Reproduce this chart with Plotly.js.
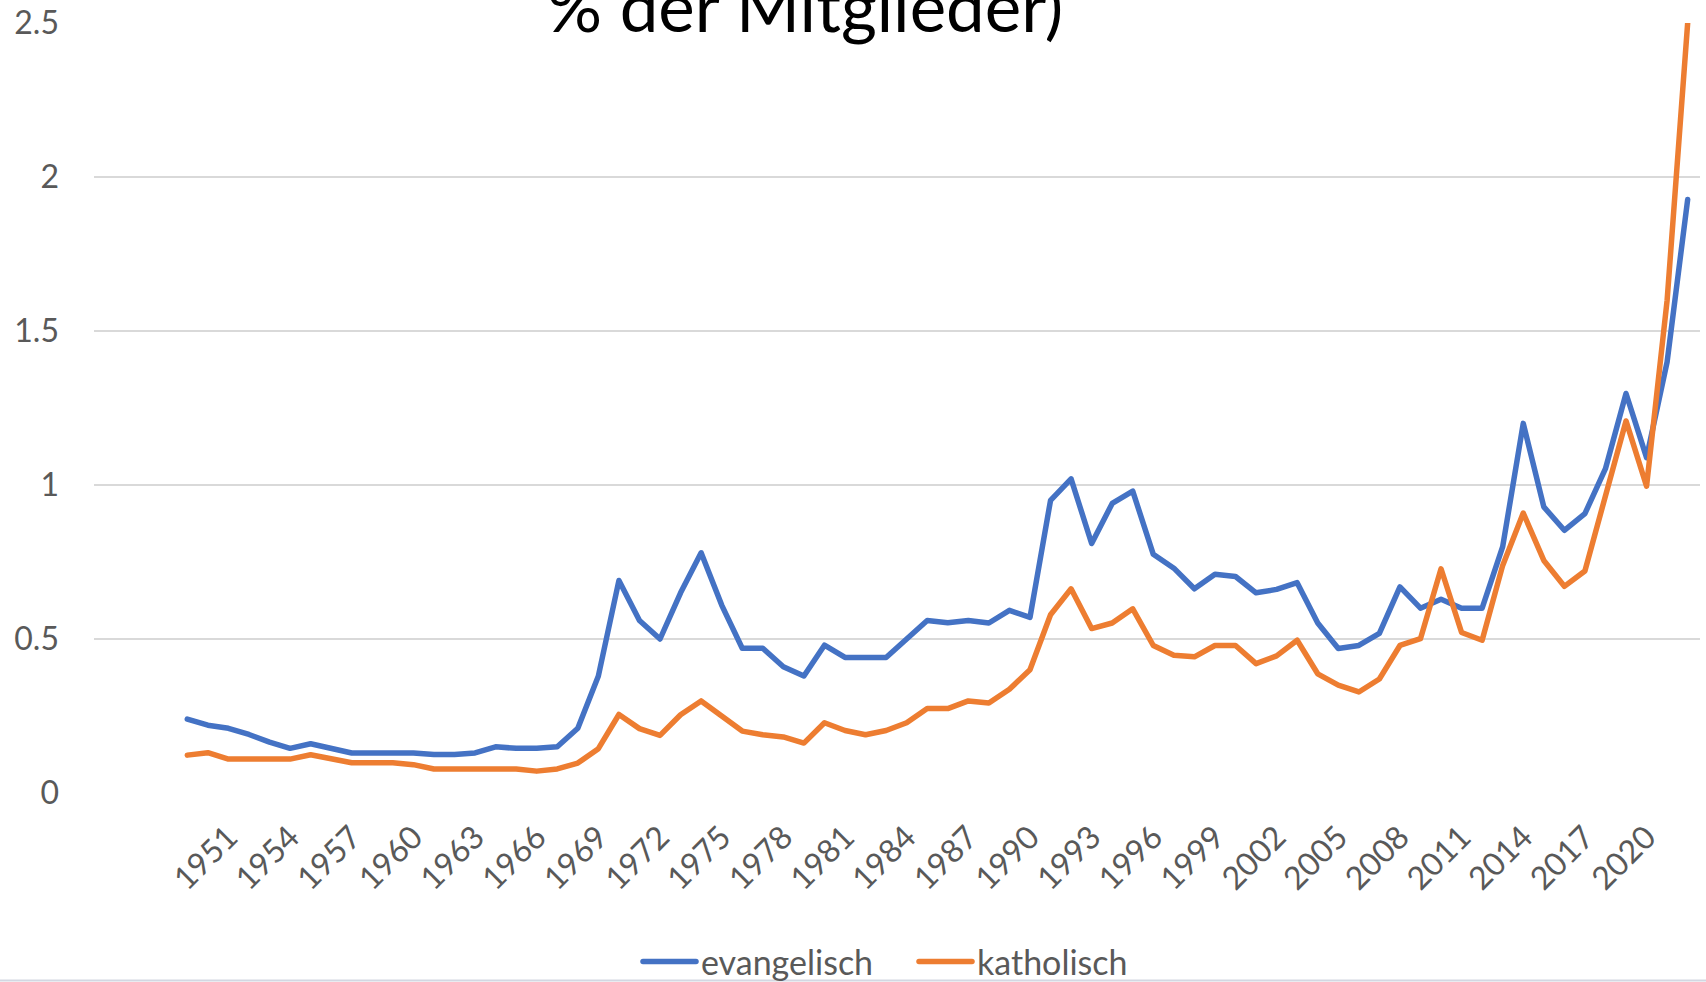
<!DOCTYPE html>
<html>
<head>
<meta charset="utf-8">
<script src="https://cdn.plot.ly/plotly-3.0.1.min.js"></script>
<style>
  html, body { margin: 0; padding: 0; background: #ffffff; }
  #chart { width: 1706px; height: 982px; }
  .js-line { stroke-linejoin: round; stroke-linecap: round; }
</style>
</head>
<body>
<div id="chart"></div>
<script>
// Years (categories)
const years = [1949,1950,1951,1952,1953,1954,1955,1956,1957,1958,1959,
  1960,1961,1962,1963,1964,1965,1966,1967,1968,1969,
  1970,1971,1972,1973,1974,1975,1976,1977,1978,1979,
  1980,1981,1982,1983,1984,1985,1986,1987,1988,1989,
  1990,1991,1992,1993,1994,1995,1996,1997,1998,1999,
  2000,2001,2002,2003,2004,2005,2006,2007,2008,2009,
  2010,2011,2012,2013,2014,2015,2016,2017,2018,2019,
  2020,2021,2022];

// Kirchenaustritte in % der Mitglieder
const evangelisch = [0.24,0.22,0.21,0.19,0.165,0.145,0.16,0.145,0.13,0.13,0.13,
  0.13,0.125,0.125,0.13,0.15,0.145,0.145,0.15,0.21,0.38,
  0.69,0.56,0.50,0.65,0.78,0.61,0.47,0.47,0.41,0.38,
  0.48,0.44,0.44,0.44,0.50,0.56,0.553,0.56,0.552,0.593,
  0.57,0.95,1.02,0.81,0.94,0.98,0.775,0.73,0.663,0.71,
  0.703,0.65,0.661,0.683,0.552,0.469,0.479,0.518,0.669,0.60,
  0.629,0.60,0.60,0.80,1.20,0.929,0.853,0.907,1.053,1.297,
  1.089,1.40,1.927];

const katholisch = [0.123,0.131,0.11,0.11,0.11,0.11,0.124,0.111,0.098,0.098,0.098,
  0.092,0.078,0.078,0.078,0.078,0.078,0.071,0.078,0.097,0.144,
  0.255,0.209,0.187,0.254,0.299,0.252,0.201,0.189,0.182,0.162,
  0.228,0.203,0.189,0.203,0.228,0.274,0.274,0.299,0.292,0.337,
  0.40,0.579,0.663,0.534,0.552,0.598,0.479,0.447,0.442,0.479,
  0.479,0.42,0.445,0.496,0.387,0.35,0.328,0.37,0.479,0.501,
  0.728,0.521,0.496,0.739,0.909,0.755,0.671,0.721,0.961,1.208,
  0.996,1.60,2.50];

// Tick labels
const xTickVals = [1951,1954,1957,1960,1963,1966,1969,1972,1975,1978,1981,1984,
  1987,1990,1993,1996,1999,2002,2005,2008,2011,2014,2017,2020];
const xTickText = xTickVals.map(String);
const yTickVals = [0,0.5,1,1.5,2,2.5];
const yTickText = ['0','0.5','1','1.5','2','2.5'];

const titleText = '% der Mitglieder)';
const seriesNames = ['evangelisch','katholisch'];

const FONT = 'Lato, "Open Sans", sans-serif';
const GREY = '#595959';

const traces = [
  {
    x: years, y: evangelisch, name: seriesNames[0],
    type: 'scatter', mode: 'lines',
    line: {color: '#4472C4', width: 5.5},
    hoverinfo: 'skip'
  },
  {
    x: years, y: katholisch, name: seriesNames[1],
    type: 'scatter', mode: 'lines',
    line: {color: '#ED7D31', width: 5.5},
    hoverinfo: 'skip'
  }
];

const layout = {
  width: 1706, height: 982,
  margin: {l: 94, r: 6, t: 23, b: 189, autoexpand: false},
  paper_bgcolor: '#ffffff',
  plot_bgcolor: '#ffffff',
  font: {family: FONT, color: GREY, size: 32},
  title: {
    text: titleText,
    font: {family: FONT, size: 69, color: '#000000'},
    x: 805 / 1706, xanchor: 'center', xref: 'container',
    y: 1 - 8 / 982, yanchor: 'middle', yref: 'container'
  },
  showlegend: true,
  legend: {
    orientation: 'h',
    x: 661 / 1706, xanchor: 'left', xref: 'container',
    y: -0.2195, yanchor: 'middle',
    font: {family: FONT, size: 34, color: GREY},
    bgcolor: 'rgba(0,0,0,0)',
    entrywidth: 231,
    entrywidthmode: 'pixels',
    borderwidth: 0
  },
  xaxis: {
    range: [1944.46, 2022.6],
    tickmode: 'array',
    tickvals: xTickVals,
    ticktext: xTickText,
    tickangle: -45,
    tickfont: {family: FONT, size: 32, color: GREY},
    showgrid: false,
    zeroline: false,
    showline: false,
    ticks: '',
    ticklabelstandoff: 18,
    fixedrange: true
  },
  yaxis: {
    range: [0, 2.5],
    tickmode: 'array',
    tickvals: yTickVals,
    ticktext: yTickText,
    tickfont: {family: FONT, size: 32, color: GREY},
    showgrid: true,
    gridcolor: '#d9d9d9',
    gridwidth: 2,
    zeroline: false,
    showline: false,
    ticks: '',
    ticklabelstandoff: 34,
    fixedrange: true
  },
  shapes: [
    {
      type: 'line', xref: 'paper', yref: 'paper',
      x0: -0.06, x1: 1.01, y0: -0.2435, y1: -0.2435,
      line: {color: '#d3d7e2', width: 2}
    }
  ]
};

const gd = document.getElementById('chart');
Plotly.newPlot(gd, traces, layout, {staticPlot: true, displayModeBar: false}).then(function () {
  // let the legend keys extend past the legend clip box, like the original's longer keys
  gd.querySelectorAll('.legend .scrollbox, .legend').forEach(function (el) {
    el.removeAttribute('clip-path');
  });
  gd.querySelectorAll('.legend .legendlines path').forEach(function (p) {
    p.setAttribute('d', 'M-18,0h53');
    p.style.strokeLinecap = 'round';
  });
});
</script>
</body>
</html>
